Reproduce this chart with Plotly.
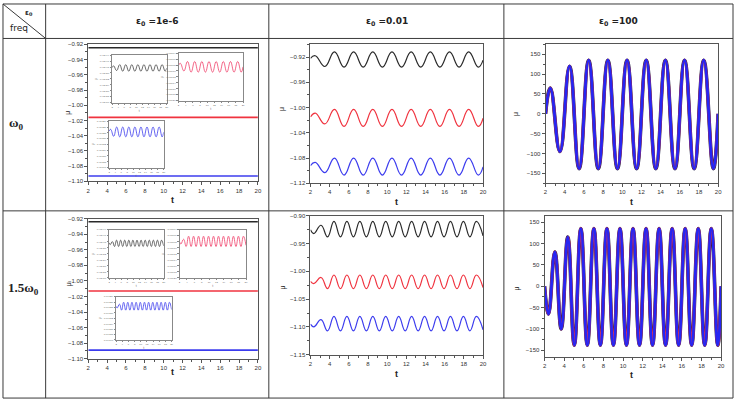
import plotly.graph_objects as go

W, H = 738, 405

# ---- text ----
COL_TITLES = ["ε<sub>0</sub> =1e-6", "ε<sub>0</sub> =0.01", "ε<sub>0</sub> =100"]
ROW_TITLES = ["ω<sub>0</sub>", "1.5ω<sub>0</sub>"]

X_TICKS = [2, 4, 6, 8, 10, 12, 14, 16, 18, 20]

# ---- time grids (start, extrema, end) ----
T_FLAT = [2, 20]
T_W0 = [2, 2.5, 3.5, 4.5, 5.5, 6.5, 7.5, 8.5, 9.5, 10.5, 11.5, 12.5, 13.5,
        14.5, 15.5, 16.5, 17.5, 18.5, 19.5, 20]
T_15W0 = [2, 2.35, 3.1, 3.78, 4.45, 5.13, 5.8, 6.48, 7.15, 7.83, 8.5, 9.18,
          9.85, 10.53, 11.2, 11.88, 12.55, 13.23, 13.9, 14.58, 15.25, 15.93,
          16.6, 17.28, 17.95, 18.63, 19.3, 20]
T_15W0_BIG = [2, 2.4, 3.05, 3.7, 4.37, 5.03, 5.7, 6.36, 7.03, 7.69, 8.36,
              9.02, 9.69, 10.35, 11.02, 11.68, 12.35, 13.01, 13.68, 14.34,
              15.01, 15.67, 16.34, 17.0, 17.67, 18.33, 19.0, 19.66, 20]

# ---- eps0 = 1e-6 (flat at full scale) ----
FLAT_W0_BLACK = [-0.9245, -0.9245]
FLAT_W0_RED = [-1.016, -1.016]
FLAT_W0_BLUE = [-1.093, -1.093]
FLAT_15W0_BLACK = [-0.924, -0.924]
FLAT_15W0_RED = [-1.013, -1.013]
FLAT_15W0_BLUE = [-1.089, -1.089]

# zoomed insets (arbitrary small scale)
INSET_W0_BLACK = [5.9, 6.2, 5.4, 6.4, 5.3, 6.4, 5.3, 6.4, 5.3, 6.4, 5.3,
                  6.4, 5.3, 6.4, 5.3, 6.4, 5.3, 6.4, 5.3, 5.8]
INSET_W0_RED = [6.0, 6.3, 5.0, 6.6, 4.8, 6.6, 4.8, 6.6, 4.8, 6.6, 4.8,
                6.6, 4.8, 6.6, 4.8, 6.6, 4.8, 6.6, 4.8, 5.7]
INSET_W0_BLUE = [6.3, 6.6, 5.4, 7.0, 5.3, 7.0, 5.3, 7.0, 5.3, 7.0, 5.3,
                 7.0, 5.3, 7.0, 5.3, 7.0, 5.3, 7.0, 5.3, 6.1]
INSET_15W0_BLACK = [5.8, 5.5, 6.0, 5.2, 6.25, 5.2, 6.25, 5.2, 6.25, 5.2,
                    6.25, 5.2, 6.25, 5.2, 6.25, 5.2, 6.25, 5.2, 6.25, 5.2,
                    6.25, 5.2, 6.25, 5.2, 6.25, 5.2, 6.25, 5.3]
INSET_15W0_RED = [6.0, 5.6, 6.4, 5.2, 6.9, 5.2, 6.9, 5.2, 6.9, 5.2, 6.9,
                  5.2, 6.9, 5.2, 6.9, 5.2, 6.9, 5.2, 6.9, 5.2, 6.9, 5.2,
                  6.9, 5.2, 6.9, 5.2, 6.9, 5.4]
INSET_15W0_BLUE = [6.2, 5.9, 6.6, 5.5, 6.95, 5.5, 6.95, 5.5, 6.95, 5.5,
                   6.95, 5.5, 6.95, 5.5, 6.95, 5.5, 6.95, 5.5, 6.95, 5.5,
                   6.95, 5.5, 6.95, 5.5, 6.95, 5.5, 6.95, 5.6]
INSET_YTEXT_BLACK = ["-0.92460", "-0.92458", "-0.92456", "-0.92454", "-0.92452",
                     "-0.92450", "-0.92448", "-0.92446", "-0.92444"]
INSET_YTEXT_RED = ["-1.01620", "-1.01618", "-1.01616", "-1.01614", "-1.01612",
                   "-1.01610", "-1.01608", "-1.01606", "-1.01604"]
INSET_YTEXT_BLUE = ["-1.09340", "-1.09338", "-1.09336", "-1.09334", "-1.09332",
                    "-1.09330", "-1.09328", "-1.09326", "-1.09324"]

# ---- eps0 = 0.01 ----
MID_W0_BLACK = [-0.922, -0.918, -0.935, -0.912, -0.936, -0.912, -0.936,
                -0.912, -0.936, -0.912, -0.936, -0.912, -0.936, -0.912,
                -0.936, -0.912, -0.936, -0.912, -0.936, -0.925]
MID_W0_RED = [-1.015, -1.009, -1.026, -1.003, -1.030, -1.003, -1.030,
              -1.003, -1.030, -1.003, -1.030, -1.003, -1.030, -1.003,
              -1.030, -1.003, -1.030, -1.003, -1.030, -1.017]
MID_W0_BLUE = [-1.092, -1.087, -1.103, -1.080, -1.107, -1.080, -1.107,
               -1.080, -1.107, -1.080, -1.107, -1.080, -1.107, -1.080,
               -1.107, -1.080, -1.107, -1.080, -1.107, -1.094]
MID_15W0_BLACK = [-0.925, -0.932, -0.917, -0.938, -0.910, -0.938, -0.910,
                  -0.938, -0.910, -0.938, -0.910, -0.938, -0.910, -0.938,
                  -0.910, -0.938, -0.910, -0.938, -0.910, -0.938, -0.910,
                  -0.938, -0.910, -0.938, -0.910, -0.938, -0.910, -0.936]
MID_15W0_RED = [-1.018, -1.022, -1.011, -1.031, -1.0065, -1.031, -1.0065,
                -1.031, -1.0065, -1.031, -1.0065, -1.031, -1.0065, -1.031,
                -1.0065, -1.031, -1.0065, -1.031, -1.0065, -1.031, -1.0065,
                -1.031, -1.0065, -1.031, -1.0065, -1.031, -1.0065, -1.029]
MID_15W0_BLUE = [-1.095, -1.100, -1.087, -1.107, -1.081, -1.107, -1.081,
                 -1.107, -1.081, -1.107, -1.081, -1.107, -1.081, -1.107,
                 -1.081, -1.107, -1.081, -1.107, -1.081, -1.107, -1.081,
                 -1.107, -1.081, -1.107, -1.081, -1.107, -1.081, -1.105]

# ---- eps0 = 100 ----
BIG_W0 = [0, 65, -95, 120, -138, 135, -138, 135, -138, 135, -138, 135,
          -138, 135, -138, 135, -138, 135, -138, 0]
BIG_15W0 = [0, -65, 80, -100, 115, -138, 135, -138, 135, -138, 135, -138,
            135, -138, 135, -138, 135, -138, 135, -138, 135, -138, 135,
            -138, 135, -138, 135, -138, 0]

BLACK = "#2a2a2a"
RED = "#f0333f"
BLUE = "#3c3cee"
AXIS = "#555555"
TICKFONT = dict(family="Liberation Sans", size=6, color="#333333")


def xdom(x0, x1):
    return [x0 / W, x1 / W]


def ydom(y0, y1):
    return [1 - y1 / H, 1 - y0 / H]


fig = go.Figure()
layout = {}


def add_axes(n, box, yrange, ytick0, ydtick, yminor, yfmt):
    x0, x1, y0, y1 = box
    xk = "xaxis" if n == 1 else f"xaxis{n}"
    yk = "yaxis" if n == 1 else f"yaxis{n}"
    layout[xk] = dict(
        domain=xdom(x0, x1), range=[2, 20], anchor=f"y{n}",
        tickmode="array", tickvals=X_TICKS,
        showline=True, linecolor=AXIS, linewidth=1, mirror=True,
        ticks="outside", ticklen=3, tickcolor=AXIS, tickfont=TICKFONT,
        minor=dict(ticks="outside", ticklen=2, tickcolor=AXIS, dtick=1),
        showgrid=False, zeroline=False,
    )
    layout[yk] = dict(
        domain=ydom(y0, y1), range=yrange, anchor=f"x{n}",
        tick0=ytick0, dtick=ydtick, tickformat=yfmt,
        showline=True, linecolor=AXIS, linewidth=1, mirror=True,
        ticks="outside", ticklen=3, tickcolor=AXIS, tickfont=TICKFONT,
        minor=dict(ticks="outside", ticklen=2, tickcolor=AXIS, dtick=yminor),
        showgrid=False, zeroline=False,
    )


def add_inset(n, box, ytext):
    x0, x1, y0, y1 = box
    tiny = dict(family="Liberation Sans", size=2.5, color="#666666")
    layout[f"xaxis{n}"] = dict(
        domain=xdom(x0, x1), range=[2, 20], anchor=f"y{n}",
        tickmode="array", tickvals=X_TICKS, tickfont=tiny,
        showline=True, linecolor="#888888", linewidth=1, mirror=True,
        ticks="outside", ticklen=1.5, tickcolor="#888888",
        showgrid=False, zeroline=False,
        title=dict(text="t", font=dict(size=3, color="#666666"), standoff=1),
    )
    layout[f"yaxis{n}"] = dict(
        domain=ydom(y0, y1), range=[0, 8], anchor=f"x{n}",
        tickmode="array", tickvals=[0, 1, 2, 3, 4, 5, 6, 7, 8], ticktext=ytext,
        tickfont=tiny,
        showline=True, linecolor="#888888", linewidth=1, mirror=True,
        ticks="outside", ticklen=1.5, tickcolor="#888888",
        showgrid=False, zeroline=False,
        title=dict(text="μ", font=dict(size=3, color="#666666"), standoff=2),
    )


def line(n, t, mu, color, width, smooth=True):
    ref = "" if n == 1 else str(n)
    fig.add_trace(go.Scatter(
        x=t, y=mu, mode="lines", xaxis="x" + ref, yaxis="y" + ref,
        line=dict(color=color, width=width,
                  shape="spline" if smooth else "linear", smoothing=1.3),
        showlegend=False, hoverinfo="skip",
    ))


# main panels
add_axes(1, (87, 258, 42, 181), [-1.10, -0.92], -1.10, 0.02, 0.01, ".2f")
add_axes(2, (311, 485, 42, 183), [-1.12, -0.90], -1.12, 0.04, 0.02, ".2f")
add_axes(3, (548, 722, 42, 183), [-175, 175], -150, 50, 25, "d")
add_axes(4, (87, 258, 219, 361), [-1.10, -0.92], -1.10, 0.02, 0.01, ".2f")
add_axes(5, (311, 485, 216, 357), [-1.15, -0.90], -1.15, 0.05, 0.025, ".2f")
add_axes(6, (547, 725, 216, 359), [-165, 165], -150, 50, 25, "d")

# insets inside the eps0=1e-6 panels
add_inset(7, (111, 166, 53, 101), INSET_YTEXT_BLACK)
add_inset(8, (178, 243, 51, 99), INSET_YTEXT_RED)
add_inset(9, (108, 163, 120, 167), INSET_YTEXT_BLUE)
add_inset(10, (108, 163, 230, 279), INSET_YTEXT_BLACK)
add_inset(11, (179, 246, 230, 279), INSET_YTEXT_RED)
add_inset(12, (115, 171, 298, 342), INSET_YTEXT_BLUE)

# eps0 = 1e-6
line(1, T_FLAT, FLAT_W0_BLACK, BLACK, 1.5, False)
line(1, T_FLAT, FLAT_W0_RED, RED, 1.6, False)
line(1, T_FLAT, FLAT_W0_BLUE, BLUE, 1.6, False)
line(4, T_FLAT, FLAT_15W0_BLACK, BLACK, 1.5, False)
line(4, T_FLAT, FLAT_15W0_RED, RED, 1.6, False)
line(4, T_FLAT, FLAT_15W0_BLUE, BLUE, 1.6, False)
line(7, T_W0, INSET_W0_BLACK, "#444444", 0.8)
line(8, T_W0, INSET_W0_RED, "#f0406a", 0.8)
line(9, T_W0, INSET_W0_BLUE, BLUE, 0.8)
line(10, T_15W0, INSET_15W0_BLACK, "#444444", 0.8)
line(11, T_15W0, INSET_15W0_RED, "#f0406a", 0.8)
line(12, T_15W0, INSET_15W0_BLUE, BLUE, 0.8)

# eps0 = 0.01
line(2, T_W0, MID_W0_BLACK, BLACK, 1.2)
line(2, T_W0, MID_W0_RED, RED, 1.2)
line(2, T_W0, MID_W0_BLUE, BLUE, 1.2)
line(5, T_15W0, MID_15W0_BLACK, BLACK, 1.2)
line(5, T_15W0, MID_15W0_RED, RED, 1.2)
line(5, T_15W0, MID_15W0_BLUE, BLUE, 1.2)

# eps0 = 100 (three curves overlap, blue on top)
line(3, T_W0, BIG_W0, "#1a1a40", 3.6)
line(3, T_W0, BIG_W0, RED, 3.0)
line(3, T_W0, BIG_W0, "#2626f2", 2.8)
line(6, T_15W0_BIG, BIG_15W0, "#1a1a40", 3.6)
line(6, T_15W0_BIG, BIG_15W0, RED, 3.0)
line(6, T_15W0_BIG, BIG_15W0, "#2626f2", 2.8)

# table grid
shapes = []


def seg(x0, y0, x1, y1, color="#3a3a3a", width=1):
    shapes.append(dict(type="line", xref="paper", yref="paper",
                       x0=x0 / W, y0=1 - y0 / H, x1=x1 / W, y1=1 - y1 / H,
                       line=dict(color=color, width=width)))


seg(1, 1, 737, 1)
seg(1, 401, 737, 401)
seg(1, 1, 1, 401)
seg(737, 1, 737, 401)
seg(44, 1, 44, 401)
seg(269, 1, 269, 401)
seg(506, 1, 506, 401)
seg(1, 36, 737, 36)
seg(1, 211, 737, 211)
seg(1, 1, 44, 36)

annotations = []


def label(x, y, text, size, family="DejaVu Sans", angle=0, color="#222222"):
    annotations.append(dict(
        xref="paper", yref="paper", x=x / W, y=1 - y / H, text=text,
        showarrow=False, textangle=angle, xanchor="center", yanchor="middle",
        font=dict(family=family, size=size, color=color),
    ))


label(156, 19, "<b>" + COL_TITLES[0] + "</b>", 9)
label(388, 19, "<b>" + COL_TITLES[1] + "</b>", 9)
label(622, 19, "<b>" + COL_TITLES[2] + "</b>", 9)
label(27, 10, "<b>ε<sub>0</sub></b>", 7)
label(17, 25, "freq", 9)
label(15, 122, "<b>" + ROW_TITLES[0] + "</b>", 13, "Liberation Serif")
label(22, 290, "<b>" + ROW_TITLES[1] + "</b>", 13, "Liberation Serif")

for cx, ty1, ty2 in [(172, 200, 375), (398, 202, 377), (635, 202, 378)]:
    label(cx, ty1, "<b>t</b>", 9, "Liberation Sans")
    label(cx, ty2, "<b>t</b>", 9, "Liberation Sans")
for mx, my1, my2 in [(67, 111, 285), (283, 108, 289), (519, 113, 290)]:
    label(mx, my1, "μ", 7, "Liberation Sans", -90)
    label(mx, my2, "μ", 7, "Liberation Sans", -90)

fig.update_layout(
    width=W, height=H,
    margin=dict(l=0, r=0, t=0, b=0),
    paper_bgcolor="white", plot_bgcolor="white",
    shapes=shapes, annotations=annotations,
    **layout,
)

# page body has a default 8px margin; drop it so the chart sits at 0,0
fig.write_html("out.html", config={"displayModeBar": False},
               post_script="document.body.style.margin='0';")
